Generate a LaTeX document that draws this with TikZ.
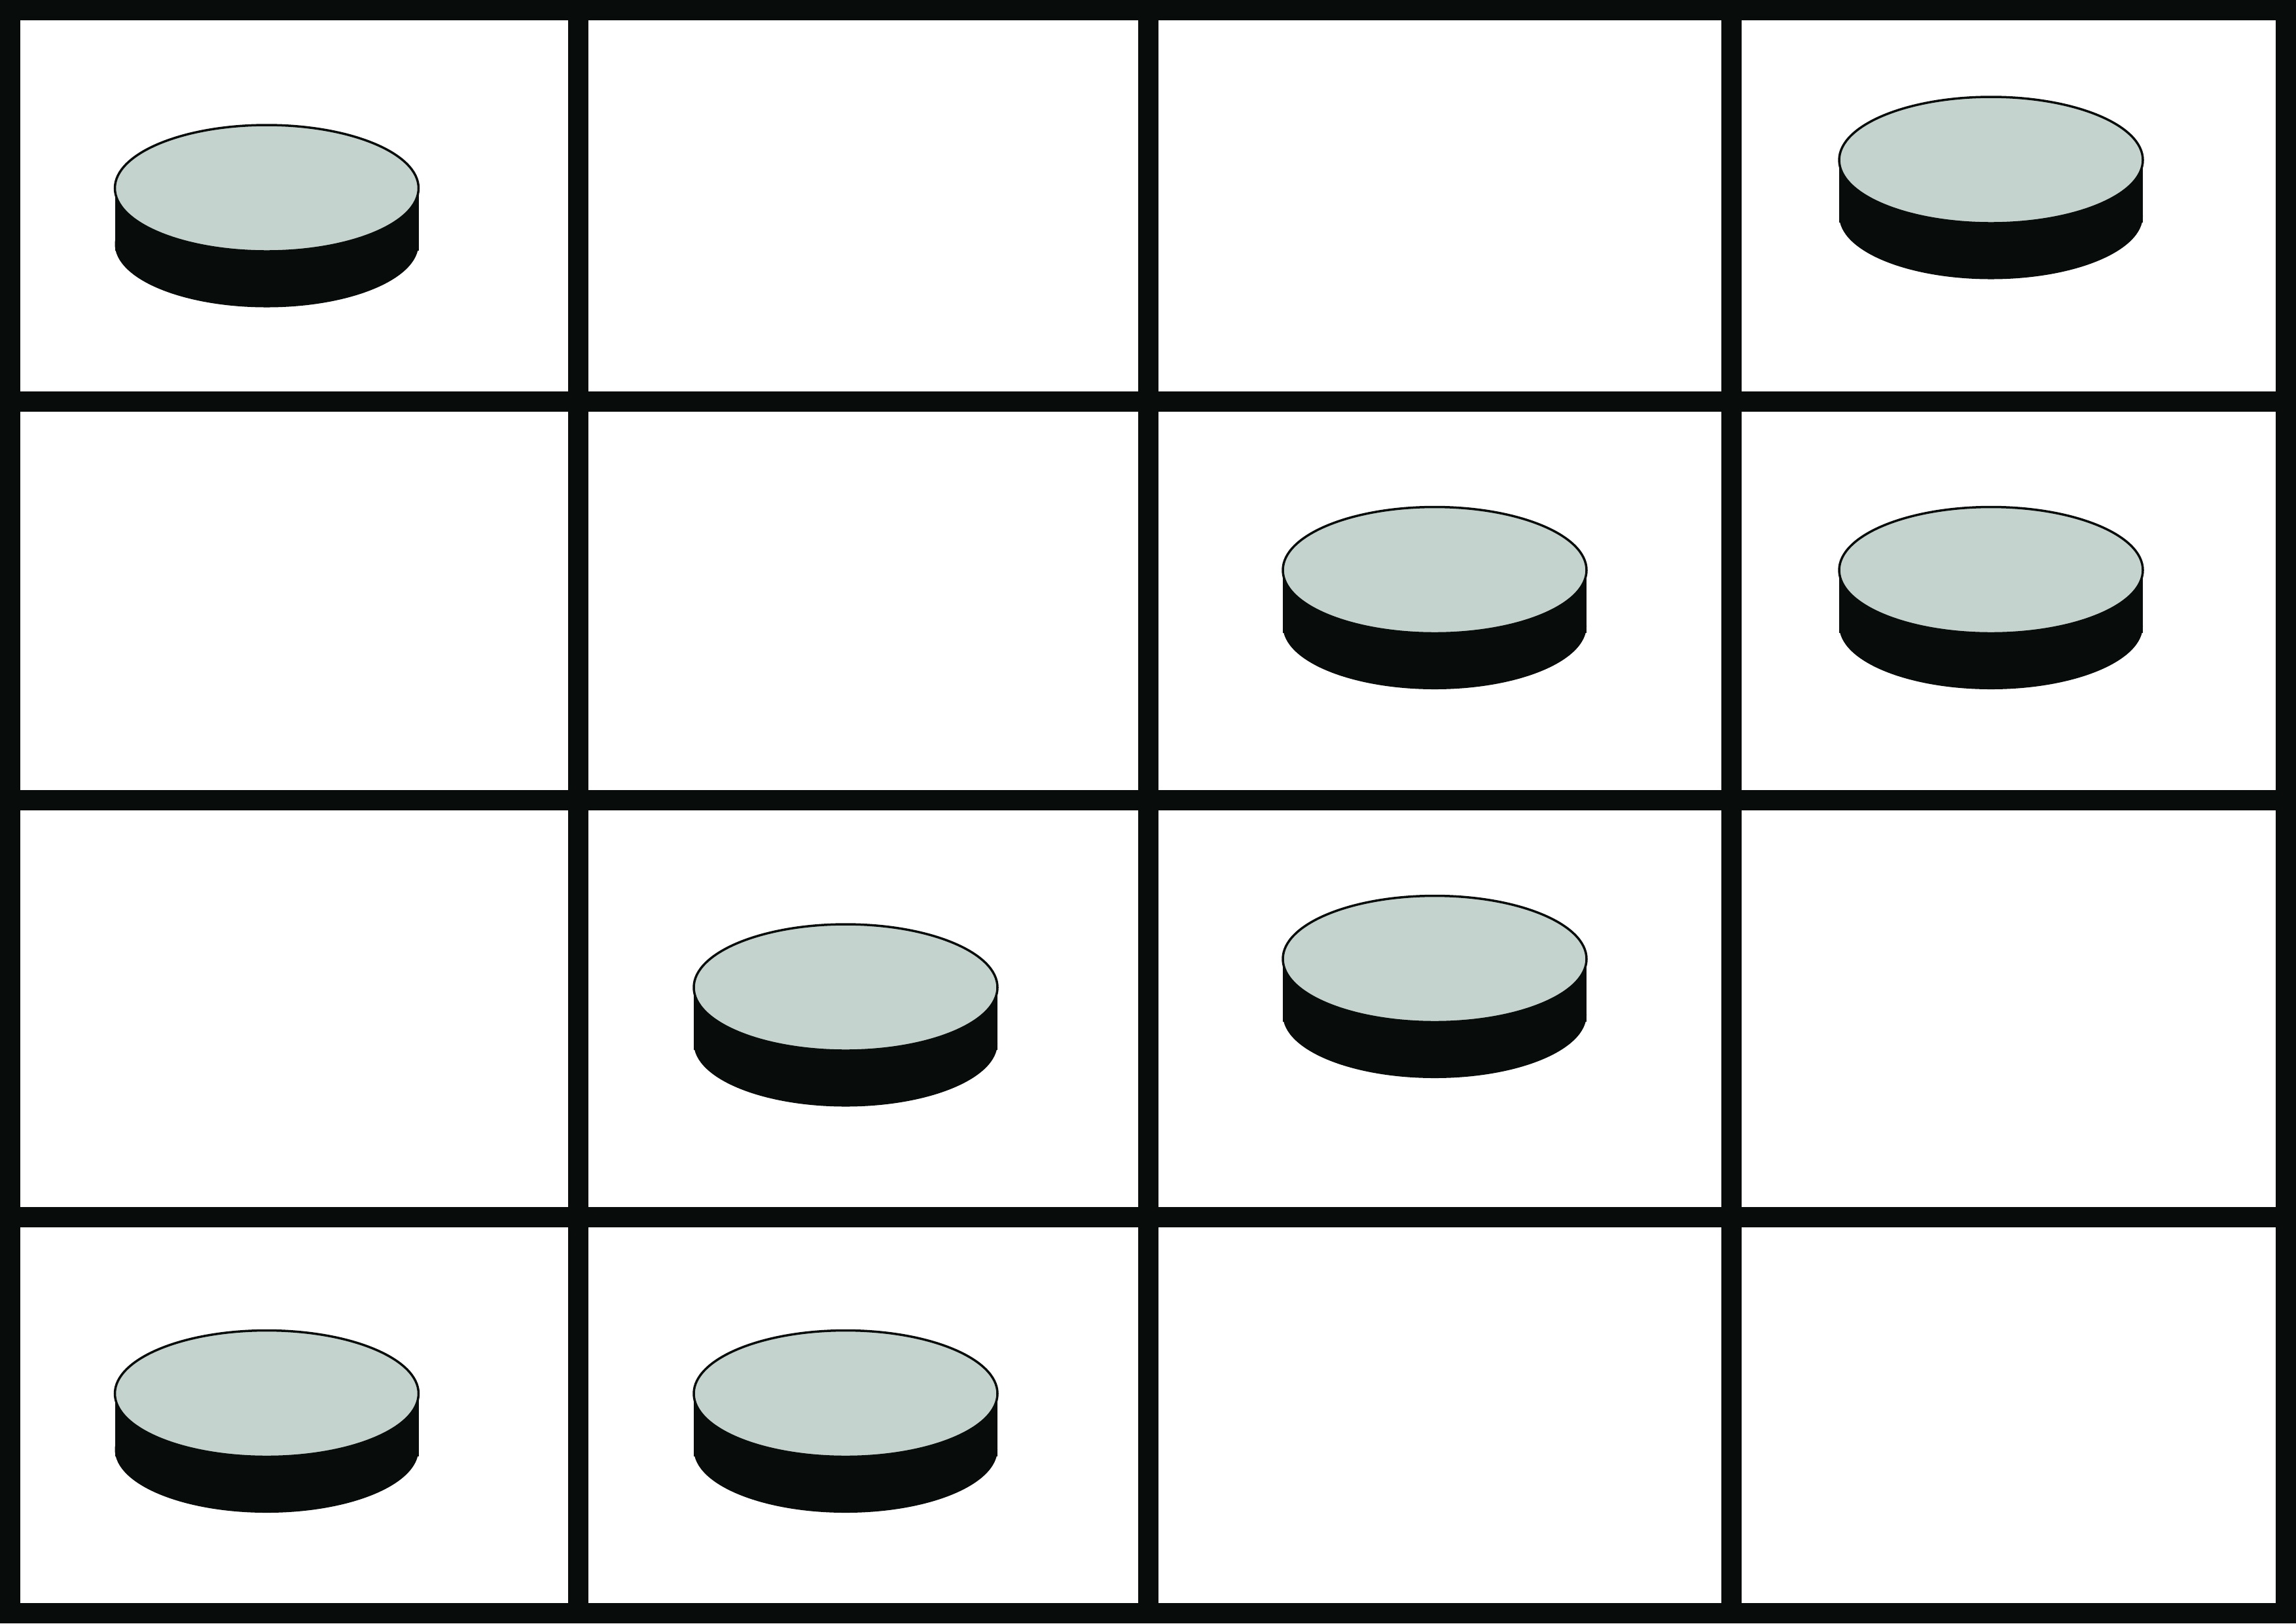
\documentclass[tikz,border=0pt]{standalone}
\usepackage{xcolor}
\definecolor{gridblack}{HTML}{080C0B}
\definecolor{discface}{HTML}{C5D3CF}

\begin{document}
\begin{tikzpicture}[x=0.01cm,y=-0.01cm]
		\newcommand{\rx}{232} % half width of the discs
		\newcommand{\ry}{96.5} % half height of the top face
		\newcommand{\rim}{85.5} % thickness of the discs
		\newcommand{\wid}{3508}
		\newcommand{\hei}{2480}

		% set the styles of the bars and the discs
		\tikzset{
			bar/.style={
				draw=gridblack,
				line width=0.31cm
				},
			rimpart/.style={
				fill=gridblack
				},
			topface/.style={
				draw=gridblack,
				fill=discface,
				line width=0.035cm
				}
		}

		\useasboundingbox (0,0) rectangle (\wid,\hei);
		\fill[white] (0,0) rectangle (\wid,\hei);

		% bars
		\foreach \x in {15,883,1754,2645.5,3492.5}
			\draw[bar] (\x,0) -- (\x,\hei);
		\foreach \y in {15,613,1222,1859,2464.5}
			\draw[bar] (0,\y) -- (\wid,\y);

		% discs
		\foreach \x/\y in {407.5/287.5,3042/244.5,2192/871,3042/871,1292/1508.5,2192/1465,407.5/2129,1292/2129}
		{
			\fill[rimpart] (\x,\y+\rim) ellipse ({\rx} and {\ry});
			\fill[rimpart] (\x-\rx,\y) rectangle (\x+\rx,\y+\rim+10);
			\filldraw[topface] (\x,\y) ellipse ({\rx} and {\ry});
		}
\end{tikzpicture}
\end{document}
